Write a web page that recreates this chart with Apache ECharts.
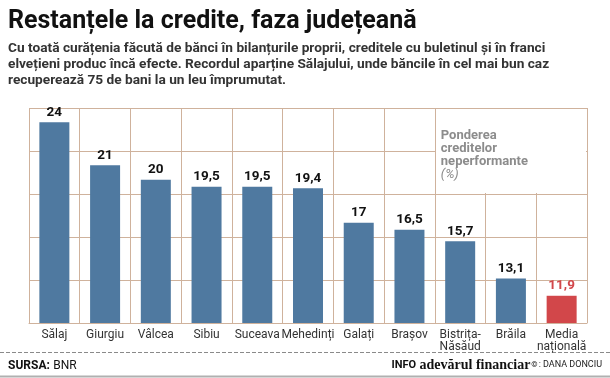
<!DOCTYPE html>
<html>
<head>
<meta charset="utf-8">
<script src="https://cdn.jsdelivr.net/npm/echarts@6/dist/echarts.min.js"></script>
<style>html,body{margin:0;padding:0;background:#fff;}#c{width:610px;height:378px;}</style>
</head>
<body>
<div id="c"></div>
<script>
var categories = ['Sălaj','Giurgiu','Vâlcea','Sibiu','Suceava','Mehedinți','Galați','Brașov','Bistrița-\nNăsăud','Brăila','Media\nnațională'];
var values = [24, 21, 20, 19.5, 19.5, 19.4, 17, 16.5, 15.7, 13.1, 11.9];
var highlightIndex = 10;

var BLUE = '#4f79a0', RED = '#d2474a', GRIDC = '#cfb29c';
var chart = echarts.init(document.getElementById('c'), null, {renderer: 'canvas'});

var barData = values.map(function (v, i) {
  return i === highlightIndex
    ? {value: v, itemStyle: {color: RED}, label: {color: RED}}
    : {value: v};
});

var option = {
  animation: false,
  backgroundColor: '#fff',
  grid: {left: 29, right: 23, top: 108, bottom: 55},
  xAxis: {
    type: 'category',
    data: categories,
    axisLine: {show: true, lineStyle: {color: GRIDC, width: 1}},
    axisTick: {show: false},
    axisLabel: {color: '#333', fontSize: 12, fontFamily: 'Roboto', margin: 6, lineHeight: 12, interval: 0},
    splitLine: {show: true, interval: 0, lineStyle: {color: GRIDC, width: 1}}
  },
  yAxis: [
    {type: 'value', min: 10, max: 25, show: false},
    {type: 'value', min: 0, max: 5, interval: 1, position: 'right',
     axisLabel: {show: false}, axisLine: {show: false}, axisTick: {show: false},
     splitLine: {show: true, lineStyle: {color: GRIDC, width: 1}}}
  ],
  series: [{
    type: 'bar',
    yAxisIndex: 0,
    data: barData,
    barWidth: 30,
    itemStyle: {color: BLUE},
    z: 3,
    label: {
      show: true, position: 'top', distance: 3,
      color: '#111', fontWeight: 'bold', fontSize: 13.5, fontFamily: 'Roboto',
      formatter: function (p) { return String(p.value).replace('.', ','); }
    }
  }]
};
chart.setOption(option);

var cw = chart.convertToPixel({xAxisIndex: 0}, 1) - chart.convertToPixel({xAxisIndex: 0}, 0);
var xLeft = chart.convertToPixel({xAxisIndex: 0}, 8) - cw / 2;
var xRight = chart.convertToPixel({xAxisIndex: 0}, 10) + cw / 2;
var yTop = chart.convertToPixel({yAxisIndex: 1}, 5);
var yBot = chart.convertToPixel({yAxisIndex: 1}, 3);

chart.setOption({
  graphic: [
    {type: 'rect', zlevel: 1, z: 10, shape: {x: Math.round(xLeft) + 1, y: Math.round(yTop) + 1, width: Math.round(xRight - xLeft) - 2, height: Math.round(yBot - yTop) - 2}, style: {fill: '#ffffff'}},
    {type: 'text', zlevel: 1, z: 11, left: xLeft + 6, top: yTop + 21, style: {
      text: '{b|Ponderea}\n{b|creditelor}\n{b|neperformante}\n{i|(%)}',
      rich: {
        b: {fontFamily: 'Roboto', fontWeight: 'bold', fontSize: 13, fill: '#8c8c8c', lineHeight: 13},
        i: {fontFamily: 'Roboto', fontStyle: 'italic', fontSize: 13, fill: '#8c8c8c', lineHeight: 13}
      }
    }},
    {type: 'text', left: 8, top: 9, style: {text: 'Restanțele la credite, faza județeană', fontFamily: 'Roboto', fontWeight: 'bold', fontSize: 25, fill: '#111'}},
    {type: 'text', left: 8, top: 41, style: {
      text: 'Cu toată curățenia făcută de bănci în bilanțurile proprii, creditele cu buletinul și în franci\nelvețieni produc încă efecte. Recordul aparține Sălajului, unde băncile în cel mai bun caz\nrecuperează 75 de bani la un leu împrumutat.',
      fontFamily: 'Roboto', fontWeight: 'bold', fontSize: 13.7, lineHeight: 16, fill: '#333'}},
    {type: 'line', shape: {x1: 0, y1: 352.5, x2: 610, y2: 352.5}, style: {stroke: '#8a8a8a', lineWidth: 1, lineDash: [4, 2]}},
    {type: 'line', shape: {x1: 0, y1: 376.5, x2: 610, y2: 376.5}, style: {stroke: '#b0b0b0', lineWidth: 2}},
    {type: 'text', left: 8, top: 360, style: {
      text: '{b|SURSA:} {n|BNR}',
      rich: {b: {fontFamily: 'Roboto', fontWeight: 'bold', fontSize: 12, fill: '#111'}, n: {fontFamily: 'Roboto', fontSize: 12, fill: '#111'}}}},
    {type: 'text', right: 8, top: 358, style: {
      text: '{b|INFO} {s|adevărul financiar}{c|©}{d|: DANA DONCIU}',
      rich: {
        b: {fontFamily: 'Roboto', fontWeight: 'bold', fontSize: 11, fill: '#111'},
        s: {fontFamily: 'Liberation Serif', fontWeight: 'bold', fontSize: 14, fill: '#111'},
        c: {fontFamily: 'Roboto', fontWeight: 'bold', fontSize: 8, fill: '#111', padding: [0, 1, 0, 1]},
        d: {fontFamily: 'Roboto', fontSize: 9, fill: '#222'}
      }}}
  ]
});
</script>
</body>
</html>
